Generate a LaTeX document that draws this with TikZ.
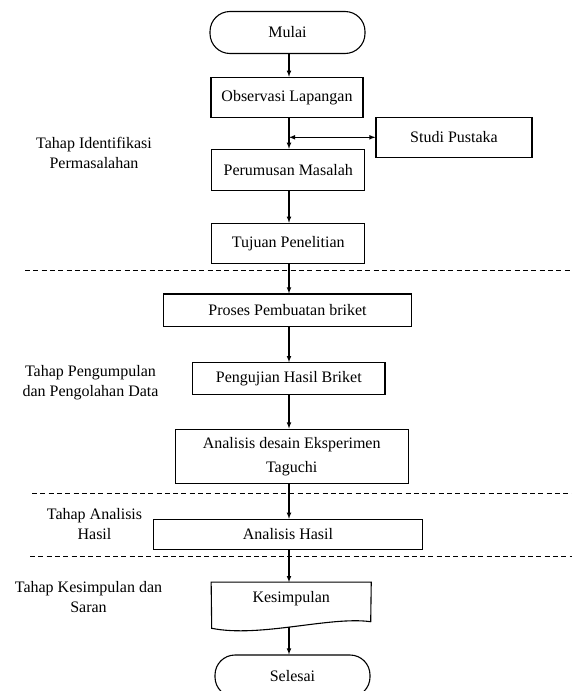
\documentclass[tikz,border=0pt]{standalone}
\usepackage{fontspec}
\setmainfont{Liberation Serif}
\begin{document}
\begin{tikzpicture}[x=1pt,y=-1pt,line width=1.1pt,
    font=\fontsize{16}{20}\selectfont,
    box/.style={draw,rectangle,inner sep=0pt},
    term/.style={draw,rectangle,rounded corners=20pt,inner sep=0pt,minimum width=155pt,minimum height=42pt},
    lab/.style={align=center,inner sep=0pt},
    arr/.style={-latex},
    sep/.style={dash pattern=on 5pt off 3.3pt,line width=1pt}]
        \useasboundingbox (0,0) rectangle (572,691);
        \coordinate (t) at (289,0);

        \node[term](mulai)at(287.5,32.5){Mulai};
        \node[box,minimum width=152pt,minimum height=40pt](obs)at(287,97.3){Observasi Lapangan};
        \node[box,minimum width=156pt,minimum height=40pt](studi)at(454,137.3){Studi Pustaka};
        \node[box,minimum width=153pt,minimum height=40.7pt](per)at(288.3,169.7){Perumusan Masalah};
        \node[box,minimum width=153pt,minimum height=40pt](tuj)at(288.3,243.3){Tujuan Penelitian};
        \node[box,minimum width=248.4pt,minimum height=32.7pt](pro)at(287.5,310.3){Proses Pembuatan briket};
        \node[box,minimum width=192.3pt,minimum height=31.6pt](uji)at(288.8,378.5){Pengujian Hasil Briket};
        \node[box,minimum width=233.3pt,minimum height=54.3pt,align=center,font=\fontsize{16}{24}\selectfont](ade)at(291.7,456.2){Analisis desain Eksperimen\\Taguchi};
        \node[box,minimum width=269.4pt,minimum height=29.7pt](ah)at(288,534.2){Analisis Hasil};
        \node[minimum width=159pt,minimum height=31.2pt,inner sep=0pt](kes)at(291.2,598.3){Kesimpulan};
        \draw (kes.north west) -- (kes.north east) -- (370.7,621.7) .. controls (330,616) and (260,638) .. (211.7,628.3) -- cycle;
        \node[term](sel)at(292.5,676){Selesai};

        \node[lab](lab1)at(94,153){Tahap Identifikasi\\Permasalahan};
        \node[lab](lab2)at(90.5,383){Tahap Pengumpulan\\dan Pengolahan Data};
        \node[lab](lab3)at(94.5,524){Tahap Analisis\\Hasil};
        \node[lab](lab4)at(88.5,597){Tahap Kesimpulan dan\\Saran};

        \draw[sep](25,270)--(572,270);
        \draw[sep](32,493.3)--(572,493.3);
        \draw[sep](30,556.5)--(572,556.5);

        \draw[arr](mulai.south-|t)--(obs.north-|t);
        \draw[arr](obs.south-|t)--(per.north-|t);
        \draw[latex-latex](t|-studi.west)--(studi.west);
        \draw[arr](per.south-|t)--(tuj.north-|t);
        \draw[arr](tuj.south-|t)--(pro.north-|t);
        \draw[arr](pro.south-|t)--(uji.north-|t);
        \draw[arr](uji.south-|t)--(ade.north-|t);
        \draw[arr](ade.south-|t)--(ah.north-|t);
        \draw[arr](ah.south-|t)--(kes.north-|t);
        \coordinate (kesb) at (289,626.6);
        \draw[arr](kesb)--(sel.north-|kesb);
    \end{tikzpicture}
\end{document}
